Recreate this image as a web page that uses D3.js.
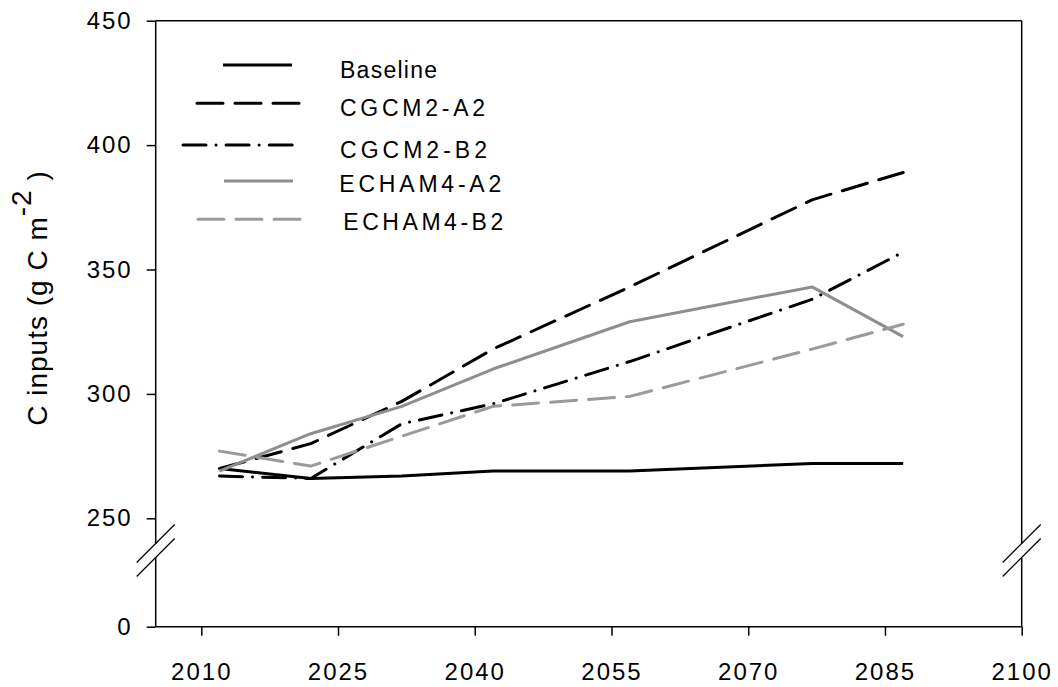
<!DOCTYPE html>
<html>
<head>
<meta charset="utf-8">
<script src="https://cdn.jsdelivr.net/npm/d3@7.9.0/dist/d3.min.js"></script>
<style>
  body { margin: 0; background: #fff; }
  text { font-family: "Liberation Sans", Arial, sans-serif; fill: #000; }
</style>
</head>
<body>
<div id="chart"></div>
<script>
// data
const years = [2012, 2022, 2032, 2042, 2057, 2077, 2087];
const baseline = [270, 266, 267, 269, 269, 272, 272];
const cgcm2A2 = [270, 280, 297, 318, 343, 378, 389];
const cgcm2B2 = [267, 266, 288, 296, 313, 338, 357];
const echam4A2 = [269, 284, 295, 310, 329, 343, 323];
const echam4B2 = [277, 271, 283, 295, 299, 318, 328];

const seriesNames = ['Baseline', 'CGCM2-A2', 'CGCM2-B2', 'ECHAM4-A2', 'ECHAM4-B2'];
const seriesValues = [baseline, cgcm2A2, cgcm2B2, echam4A2, echam4B2];

const xTicks = [2010, 2025, 2040, 2055, 2070, 2085, 2100];
const yTicksUpper = [250, 300, 350, 400, 450];
const yTicksLower = [0];

// styles per series
const styles = {
    'Baseline':  { color: '#000', dash: null },
    'CGCM2-A2':  { color: '#000', dash: '26,12' },
    'CGCM2-B2':  { color: '#000', dash: '23,10,0.1,10' },
    'ECHAM4-A2': { color: '#8e8e8e', dash: null },
    'ECHAM4-B2': { color: '#9a9a9a', dash: '26,12' }
};

const width = 1058;
const height = 687;

const plot = { left: 155.7, right: 1021.7, top: 20.7, bottom: 626.7 };
const breakTop = 543.5;     // where the upper slash crosses the axis
const breakBottom = 557.5;  // where the lower slash crosses the axis

const svg = d3.select('#chart')
    .append('svg')
    .attr('width', width)
    .attr('height', height);

const xScale = d3.scaleLinear().domain([2005, 2100]).range([plot.left, plot.right]);
const yUpper = d3.scaleLinear().domain([250, 450]).range([518.3, plot.top]);
const yLower = d3.scaleLinear().domain([0, 25]).range([plot.bottom, breakBottom]);

// frame: top line
svg.append('line')
    .attr('x1', plot.left).attr('x2', plot.right)
    .attr('y1', plot.top).attr('y2', plot.top)
    .attr('stroke', '#000').attr('stroke-width', 1.5);

// left & right axis lines, with a gap at the break
for (const x of [plot.left, plot.right]) {
    svg.append('line')
        .attr('x1', x).attr('x2', x)
        .attr('y1', plot.top).attr('y2', breakTop)
        .attr('stroke', '#000').attr('stroke-width', 1.5);
    svg.append('line')
        .attr('x1', x).attr('x2', x)
        .attr('y1', breakBottom).attr('y2', plot.bottom)
        .attr('stroke', '#000').attr('stroke-width', 1.5);

    // break slashes
    for (const yc of [breakTop, breakBottom]) {
        svg.append('line')
            .attr('x1', x - 19).attr('y1', yc + 19)
            .attr('x2', x + 19).attr('y2', yc - 19)
            .attr('stroke', '#000').attr('stroke-width', 1.2);
    }
}

// y axis (upper segment)
const yAxisUpper = d3.axisLeft(yUpper).tickValues(yTicksUpper).tickSize(9).tickPadding(14);
const gyU = svg.append('g')
    .attr('transform', `translate(${plot.left},0)`)
    .call(yAxisUpper);

// y axis (lower segment)
const yAxisLower = d3.axisLeft(yLower).tickValues(yTicksLower).tickSize(9).tickPadding(14);
const gyL = svg.append('g')
    .attr('transform', `translate(${plot.left},0)`)
    .call(yAxisLower);

// x axis
const xAxis = d3.axisBottom(xScale).tickValues(xTicks).tickFormat(d3.format('d')).tickSize(9).tickPadding(27);
const gx = svg.append('g')
    .attr('transform', `translate(0,${plot.bottom})`)
    .call(xAxis);

for (const g of [gyU, gyL, gx]) {
    g.select('.domain').remove();
    g.selectAll('.tick line').attr('stroke', '#000').attr('stroke-width', 1.5);
    g.selectAll('.tick text')
        .attr('font-size', '24px')
        .attr('letter-spacing', '2px')
        .style('font-family', '"Liberation Sans", Arial, sans-serif')
        .attr('fill', '#000');
}
svg.append('line')
    .attr('x1', plot.left).attr('x2', plot.right)
    .attr('y1', plot.bottom).attr('y2', plot.bottom)
    .attr('stroke', '#000').attr('stroke-width', 1.5);

// y label
const yLabel = svg.append('text')
    .attr('transform', 'rotate(-90)')
    .attr('x', -298)
    .attr('y', 47)
    .attr('text-anchor', 'middle')
    .attr('font-size', '28px')
    .attr('letter-spacing', '1px');
yLabel.append('tspan').text('C inputs (g C m');
yLabel.append('tspan').attr('dy', -16).attr('font-size', '28px').text('-2');
yLabel.append('tspan').attr('dy', 16).text(' )');

// lines
const line = d3.line()
    .x((d, i) => xScale(years[i]))
    .y(d => yUpper(d));

seriesNames.forEach((name, k) => {
    const s = styles[name];
    svg.append('path')
        .datum(seriesValues[k])
        .attr('fill', 'none')
        .attr('stroke', s.color)
        .attr('stroke-width', 3)
        .attr('stroke-linejoin', 'round')
        .attr('stroke-linecap', s.dash ? 'round' : 'butt')
        .attr('stroke-dasharray', s.dash)
        .attr('d', line);
});

// legend
const legendRows = [
    { x1: 223, x2: 292, y: 65,    tx: 340,   ty: 77.5,  tl: 97 },
    { x1: 197, x2: 299, y: 103.3, tx: 340,   ty: 115.5, tl: 145 },
    { x1: 183, x2: 300, y: 145,   tx: 340,   ty: 158,   tl: 147 },
    { x1: 224, x2: 293, y: 181,   tx: 339.3, ty: 191.5, tl: 162 },
    { x1: 198, x2: 301, y: 219.3, tx: 343.3, ty: 230,   tl: 160 }
];

const legend = svg.append('g').attr('class', 'legend');
seriesNames.forEach((name, k) => {
    const s = styles[name];
    const r = legendRows[k];
    legend.append('line')
        .attr('x1', r.x1).attr('x2', r.x2)
        .attr('y1', r.y).attr('y2', r.y)
        .attr('stroke', s.color)
        .attr('stroke-width', 3)
        .attr('stroke-linecap', s.dash ? 'round' : 'butt')
        .attr('stroke-dasharray', s.dash);
    legend.append('text')
        .attr('x', r.tx)
        .attr('y', r.ty)
        .attr('font-size', '23px')
        .attr('textLength', r.tl)
        .attr('lengthAdjust', 'spacing')
        .text(name);
});
</script>
</body>
</html>
